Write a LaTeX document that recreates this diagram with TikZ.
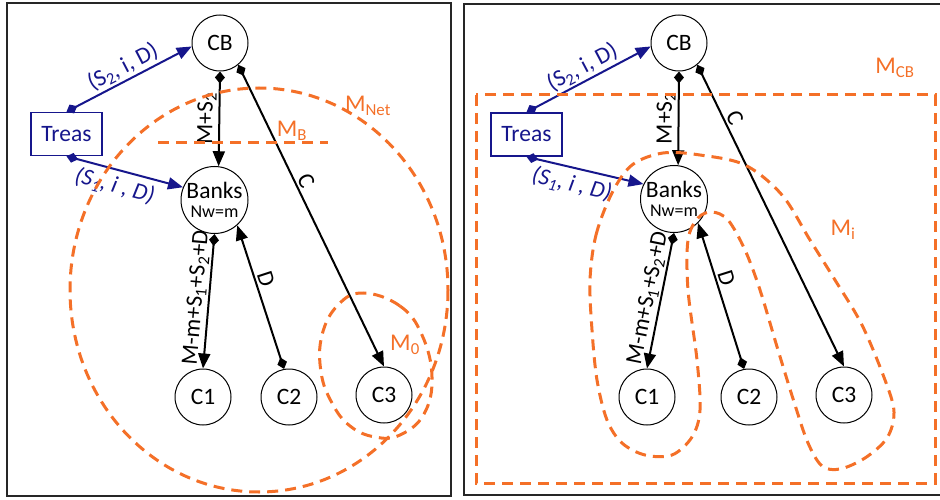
\documentclass[tikz,border=0pt]{standalone}
\usepackage{fontspec}
\setmainfont{Carlito}
\usetikzlibrary{arrows.meta}
\definecolor{mline}{RGB}{244,112,40}
\definecolor{tblue}{RGB}{22,22,140}
\tikzset{
	agent/.style={circle, draw=black, line width=1pt, fill=white, minimum size=56pt, inner sep=0pt, font=\fontsize{23.5}{26}\selectfont},
	banks/.style={agent, minimum size=67pt, align=center, font=\fontsize{23.5}{19}\selectfont},
	treasbox/.style={rectangle, draw=tblue, line width=1.5pt, fill=white, minimum width=71pt, minimum height=43pt, text=tblue, font=\fontsize{23.5}{26}\selectfont},
	flow/.style={line width=2pt, {Diamond[length=12pt,width=10pt]}-{Triangle[length=15pt,width=12pt]}},
	bflow/.style={flow, draw=tblue},
	lbl/.style={font=\fontsize{23.5}{26}\selectfont, sloped, inner sep=2pt},
	mset/.style={draw=mline, line width=3pt, dash pattern=on 11pt off 7pt},
	mlbl/.style={text=mline, font=\fontsize{24}{26}\selectfont},
	panel/.style={draw=black!85, line width=1.6pt}
}

\begin{document}
\begin{tikzpicture}[x=1pt,y=-1pt]
	\clip (0,0) rectangle (940,500);
	\draw[panel] (7,3) rectangle (451,496);
	\draw[panel] (464,4) rectangle (950,495);

	% left panel
	\node[agent] (cbl) at (220,43) {CB};
	\node[treasbox] (treasl) at (66.5,134) {Treas};
	\node[banks] (banksl) at (214.5,200) {Banks\\{\fontsize{18}{19}\selectfont Nw=m}};
	\node[agent] (c1l) at (203,397) {C1};
	\node[agent] (c2l) at (289,397) {C2};
	\node[agent] (c3l) at (384,395) {C3};

	\draw[bflow] (treasl.north) -- node[lbl, above, text=tblue] (s2l) {(S\textsubscript{2}, i, D)} (cbl.187);
	\draw[bflow] (treasl.south) -- node[lbl, below=3pt, text=tblue, pos=0.45] (s1l) {\itshape (S\textsubscript{1}, i , D)} (banksl.158);
	\draw[flow] (cbl.south) -- node[lbl, above] (msl) {M+S\textsubscript{2}} (banksl.83);
	\draw[flow] (cbl.-50) -- node[lbl, above, pos=0.4] (cl) {C} (c3l.north);
	\draw[flow] (banksl.south) -- node[lbl, above, pos=0.48] (mml) {M-m+S\textsubscript{1}+S\textsubscript{2}+D} (c1l.north);
	\draw[flow] (c2l.100) -- node[lbl, above, pos=0.6] (dl) {D} (banksl.-48);

	\draw[mset] (259,290) ellipse [x radius=189, y radius=202];
	\draw[mset] (158,143) -- (328,143);
	\draw[mset] plot[smooth cycle, tension=0.7] coordinates {(363,293) (400,306) (422,335) (432,377) (424,414) (400,435) (375,437) (350,426) (332,403) (321,372) (322,335) (338,305)};
	\node[mlbl] (mnet) at (368,106) {M\textsubscript{Net}};
	\node[mlbl] (mb) at (292,131) {M\textsubscript{B}};
	\node[mlbl] (mzero) at (405,345) {M\textsubscript{0}};

	% right panel
	\node[agent] (cbr) at (679,43) {CB};
	\node[treasbox] (treasr) at (526.5,134.5) {Treas};
	\node[banks] (banksr) at (674,199) {Banks\\{\fontsize{18}{19}\selectfont Nw=m}};
	\node[agent] (c1r) at (647,397) {C1};
	\node[agent] (c2r) at (749,397) {C2};
	\node[agent] (c3r) at (844,395) {C3};

	\draw[bflow] (treasr.north) -- node[lbl, above, text=tblue] (s2r) {(S\textsubscript{2}, i, D)} (cbr.187);
	\draw[bflow] (treasr.south) -- node[lbl, below=3pt, text=tblue, pos=0.42] (s1r) {\itshape (S\textsubscript{1}, i , D)} (banksr.154);
	\draw[flow] (cbr.south) -- node[lbl, above] (msr) {M+S\textsubscript{2}} (banksr.83);
	\draw[flow] (cbr.-50) -- node[lbl, above, pos=0.19] (cr) {C} (c3r.north);
	\draw[flow] (banksr.south) -- node[lbl, above, pos=0.5] (mmr) {M-m+S\textsubscript{1}+S\textsubscript{2}+D} (c1r.north);
	\draw[flow] (c2r.100) -- node[lbl, above, pos=0.6] (dr) {D} (banksr.-45);

	\draw[mset] (476,95) rectangle (935,483);
	\draw[mset] plot[smooth cycle, tension=0.55] coordinates {(590,280) (596,235) (612,193) (632,165) (663,153) (700,155) (745,165) (782,195) (810,240) (835,280) (862,325) (885,380) (894,412) (887,438) (865,458) (840,469) (822,466) (808,443) (795,405) (778,350) (760,290) (745,250) (728,220) (712,212) (698,218) (688,240) (688,290) (697,360) (700,410) (692,437) (672,455) (645,455) (622,443) (607,420) (597,380) (592,330)};
	\node[mlbl] (mcb) at (895,68) {M\textsubscript{CB}};
	\node[mlbl] (mi) at (843,230) {M\textsubscript{i}};
\end{tikzpicture}
\end{document}
